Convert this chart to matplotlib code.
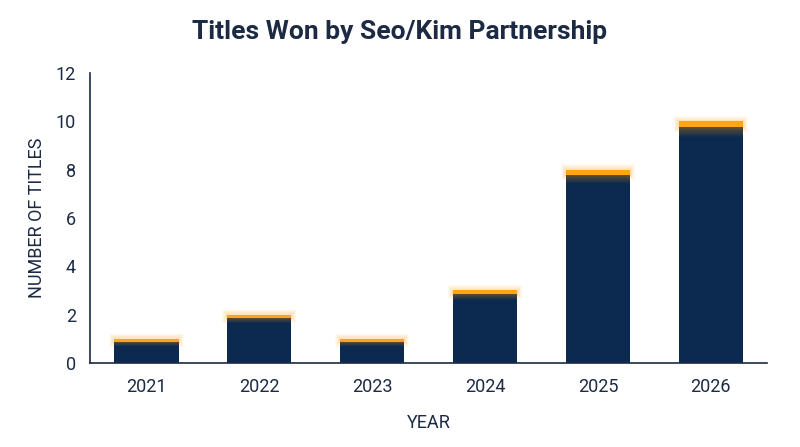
import numpy as np
import matplotlib.pyplot as plt

years = ['2021', '2022', '2023', '2024', '2025', '2026']
titles = [1, 2, 1, 3, 8, 10]

navy = '#0c2a50'
orange = '#ffa514'
text_col = '#1c2a44'

plt.rcParams['font.family'] = ['Roboto', 'DejaVu Sans']

fig = plt.figure(figsize=(8, 4.47), dpi=100)
ax = fig.add_axes([0.1125, 0.188, 0.8465, 0.649])

x = np.arange(len(years))
width = 0.57
ax.bar(x, titles, width=width, color=navy, zorder=2)

# glowing orange caps
for xi, v in zip(x, titles):
    cap = min(0.25, 0.1 + v * 0.015)
    # soft glow around the cap
    for k in range(6):
        px = 0.007 * (k + 1)
        py = 0.035 * (k + 1)
        ax.bar(xi, cap + 2 * py, width=width + 2 * px, bottom=v - cap - py,
               color=orange, alpha=0.06, linewidth=0, zorder=1)
    # fade of orange into the bar
    n = 12
    for k in range(n):
        h = cap * 1.6 / n
        ax.bar(xi, h, width=width, bottom=v - cap - (k + 1) * h,
               color='#c07a10', alpha=0.45 * (1 - k / n), linewidth=0, zorder=3)
    ax.bar(xi, cap, width=width, bottom=v - cap, color=orange, linewidth=0, zorder=4)

ax.set_xlim(-0.5, 5.5)
ax.set_ylim(0, 12)
ax.set_yticks(range(0, 13, 2))
ax.set_xticks(x)
ax.set_xticklabels(years)
ax.tick_params(length=0, labelsize=13, colors=text_col)
ax.tick_params(axis='x', pad=11)
ax.tick_params(axis='y', pad=10)
for s in ['top', 'right']:
    ax.spines[s].set_visible(False)
for s in ['left', 'bottom']:
    ax.spines[s].set_color(text_col)
    ax.spines[s].set_linewidth(1.2)

ax.set_xlabel('YEAR', fontsize=13, color=text_col, labelpad=13)
ax.set_ylabel('NUMBER OF TITLES', fontsize=13, color=text_col, labelpad=7)
fig.suptitle('Titles Won by Seo/Kim Partnership', fontsize=19, fontweight='bold',
             color=text_col, y=0.955)

fig.savefig('out.png', dpi=100)
